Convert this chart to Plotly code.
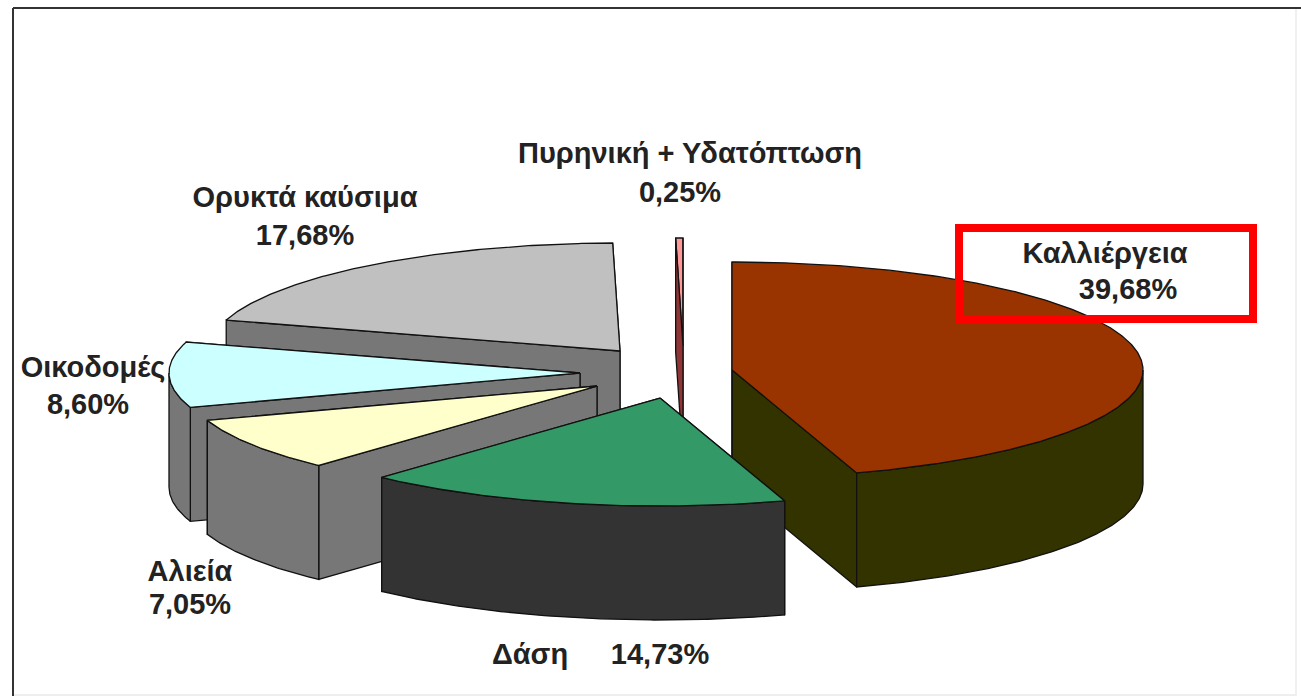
import numpy as np
import plotly.graph_objects as go

# --- data ---
categories = ["Καλλιέργεια", "Δάση", "Αλιεία", "Οικοδομές", "Ορυκτά καύσιμα", "Πυρηνική + Υδατόπτωση"]
values = [39.68, 14.73, 7.05, 8.60, 17.68, 0.25]

# --- styling ---
top_colors = ["#993300", "#339966", "#FFFFCC", "#CCFFFF", "#C0C0C0", "#FF9999"]
wall_colors = ["#333300", "#333333", "#777777", "#777777", "#777777", "#8F3535"]
# the pull of each slice away from the chart centre, in pixels
centre = (680, 372)
pull = [(52, -2), (-20, 26), (-83, 14), (-100, 1), (-60, -21), (3, -26)]
draw_order = [4, 5, 3, 2, 0, 1]
rx, ry, depth = 411, 108, 114
top_under_walls = {5}

# label text anchors, in pixels
name_pos = [(1105, 256), (530, 657), (190, 574), (93, 370), (305, 200), (690, 156)]
value_pos = [(1128, 292), (660, 657), (190, 607), (88, 407), (305, 238), (680, 195)]

# --- geometry derived from the values ---
sweep = np.array(values) / sum(values) * 360
ends = np.cumsum(sweep)
starts = ends - sweep


def rim(cx, cy, a, b, drop=0.0):
    t = np.radians(np.arange(a, b, 0.5).tolist() + [b])
    return cx + rx * np.sin(t), cy - ry * np.cos(t) + drop


def poly(fig, xs, ys, color):
    fig.add_trace(go.Scatter(
        x=list(xs) + [xs[0]], y=list(ys) + [ys[0]], mode="lines", fill="toself",
        fillcolor=color, line=dict(color="#111111", width=1.3),
        hoverinfo="skip", showlegend=False))


fig = go.Figure()
for i in draw_order:
    cx, cy = centre[0] + pull[i][0], centre[1] + pull[i][1]
    a, b = starts[i], ends[i]
    x_top, y_top = rim(cx, cy, a, b)
    if i in top_under_walls:
        poly(fig, np.r_[cx, x_top], np.r_[cy, y_top], top_colors[i])
    # radial cut faces
    for ang in (b, a):
        ex, ey = rim(cx, cy, ang, ang)
        ex, ey = ex[0], ey[0]
        poly(fig, [cx, ex, ex, cx], [cy, ey, ey + depth, cy + depth], wall_colors[i])
    # outer wall, only the part that faces the viewer
    lo, hi = max(a, 90), min(b, 270)
    if lo < hi:
        x1, y1 = rim(cx, cy, lo, hi)
        x2, y2 = rim(cx, cy, lo, hi, depth)
        poly(fig, np.r_[x1, x2[::-1]], np.r_[y1, y2[::-1]], wall_colors[i])
    # top face
    if i not in top_under_walls:
        poly(fig, np.r_[cx, x_top], np.r_[cy, y_top], top_colors[i])

# labels
pct = [f"{v:.2f}%".replace(".", ",") for v in values]
fig.add_trace(go.Scatter(
    x=[p[0] for p in name_pos] + [p[0] for p in value_pos],
    y=[p[1] for p in name_pos] + [p[1] for p in value_pos],
    text=categories + pct, mode="text", textposition="middle center",
    textfont=dict(family="Liberation Sans", size=29, color="#222222", weight="bold"),
    hoverinfo="skip", showlegend=False))

shapes = [
    dict(type="rect", x0=959, x1=1253, y0=228, y1=319, line=dict(color="#FF0000", width=8)),
    dict(type="line", x0=13, x1=1301, y0=8, y1=8, line=dict(color="#333333", width=2)),
    dict(type="line", x0=13, x1=13, y0=8, y1=696, line=dict(color="#333333", width=2)),
    dict(type="line", x0=1296, x1=1296, y0=9, y1=696, line=dict(color="#F0F0F0", width=2)),
    dict(type="line", x0=14, x1=1296, y0=695, y1=695, line=dict(color="#EEEEEE", width=2)),
]
fig.update_layout(
    width=1301, height=696, margin=dict(l=0, r=0, t=0, b=0),
    paper_bgcolor="white", plot_bgcolor="white", shapes=shapes, showlegend=False,
    xaxis=dict(range=[0, 1301], visible=False, fixedrange=True),
    yaxis=dict(range=[696, 0], visible=False, fixedrange=True),
)
fig.write_html("out.html", config=dict(displayModeBar=False),
               post_script="document.body.style.margin='0';document.body.style.overflow='hidden';")
